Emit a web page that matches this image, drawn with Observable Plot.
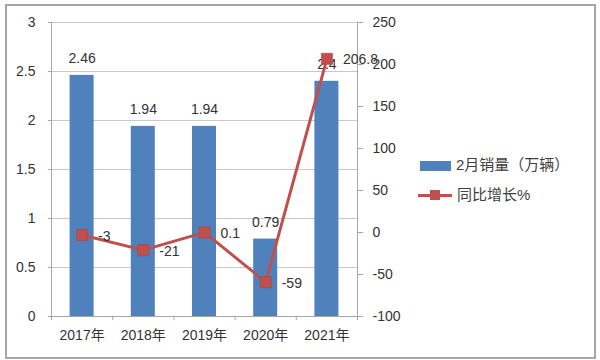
<!DOCTYPE html>
<html><head><meta charset="utf-8">
<script src="https://cdn.jsdelivr.net/npm/d3@7"></script>
<script src="https://cdn.jsdelivr.net/npm/@observablehq/plot@0.6"></script>
<style>
body{margin:0;background:#fff;}
#wrap{position:relative;width:600px;height:360px;overflow:hidden;font-family:"Liberation Sans","Noto Sans CJK SC",sans-serif;color:#404040;}
#frame{position:absolute;left:5px;top:4px;width:587px;height:351px;border:2px solid #A6A6A6;pointer-events:none;}
#chart{position:absolute;left:0;top:0;}
.lg{position:absolute;font-size:15px;line-height:18px;white-space:nowrap;}
</style></head>
<body>
<div id="wrap"><div id="chart"></div><div id="frame"></div>
<div id="legend"></div>
</div>
<script>
const years = ["2017年","2018年","2019年","2020年","2021年"];
const sales = [2.46, 1.94, 1.94, 0.79, 2.4];
const salesLabels = ["2.46","1.94","1.94","0.79","2.4"];
const growth = [-3, -21, 0.1, -59, 206.8];
const growthLabels = ["-3","-21","0.1","-59","206.8"];
const leftTicks = [0, 0.5, 1, 1.5, 2, 2.5, 3];
const rightTicks = [-100, -50, 0, 50, 100, 150, 200, 250];
const seriesNames = ["2月销量（万辆）", "同比增长%"];

const barColor = "#4F81BD", lineColor = "#C0504D";
const rMin = -100, rMax = 250, lMax = 3;
const toLeft = v => (v - rMin) / (rMax - rMin) * lMax;
const fromLeft = y => Math.round(y / lMax * (rMax - rMin) + rMin);

const data = years.map((y, i) => ({i, year: y, sales: sales[i], sl: salesLabels[i], g: growth[i], gl: growthLabels[i], gy: toLeft(growth[i])}));

const axisColor = "#A6A6A6";
const plot = Plot.plot({
  width: 600, height: 360,
  marginLeft: 51, marginRight: 243, marginTop: 22, marginBottom: 44,
  x: {domain: [0, years.length]},
  y: {domain: [0, lMax]},
  style: {fontFamily: '"Liberation Sans","Noto Sans CJK SC",sans-serif', fontSize: "14px", color: "#404040", background: "transparent"},
  marks: [
    Plot.ruleY(leftTicks.filter(d => d > 0), {stroke: "#C8C8C8", strokeWidth: 1}),
    Plot.axisY({anchor: "left", ticks: leftTicks, tickFormat: d => String(d), tickSize: 3, tickPadding: 13, stroke: axisColor, fill: "#333", fontSize: 14}),
    Plot.axisY({anchor: "right", ticks: rightTicks.map(toLeft), tickFormat: d => String(fromLeft(d)), tickSize: 5, tickPadding: 10, stroke: axisColor, fill: "#333", fontSize: 14}),
    Plot.axisX({anchor: "bottom", ticks: d3.range(0, years.length + 1), tickFormat: () => "", tickSize: 4, stroke: axisColor}),
    Plot.axisX({anchor: "bottom", ticks: years.map((_, i) => i + 0.5), tickFormat: d => years[Math.floor(d)], tickSize: 0, tickPadding: 14, fill: "#333", fontSize: 14}),
    Plot.ruleX([0, years.length], {stroke: axisColor}),
    Plot.ruleY([0], {stroke: axisColor}),
    Plot.rectY(data, {x1: d => d.i, x2: d => d.i + 1, y: "sales", insetLeft: 18.6, insetRight: 18.6, fill: barColor}),
    Plot.text(data, {x: d => d.i + 0.5, y: "sales", text: "sl", dy: -17, fill: "#333", fontSize: 14}),
    Plot.line(data, {x: d => d.i + 0.5, y: "gy", stroke: lineColor, strokeWidth: 3}),
    Plot.dot(data, {x: d => d.i + 0.5, y: "gy", symbol: "square", r: 6.3, fill: lineColor, stroke: "#B0403D", strokeWidth: 0.5}),
    Plot.text(data, {x: d => d.i + 0.5, y: "gy", text: "gl", dx: 16, dy: 1, textAnchor: "start", fill: "#333", fontSize: 14})
  ]
});
document.getElementById("chart").appendChild(plot);

const lg = document.getElementById("legend");
lg.innerHTML = `
<div style="position:absolute;left:420px;top:161px;width:31px;height:10px;background:${barColor}"></div>
<div class="lg" style="left:456px;top:156px">${seriesNames[0]}</div>
<div style="position:absolute;left:418px;top:194px;width:34px;height:3px;background:${lineColor}"></div>
<div style="position:absolute;left:430px;top:190px;width:10px;height:10px;background:${lineColor}"></div>
<div class="lg" style="left:457px;top:186px">${seriesNames[1]}</div>`;
</script>
</body></html>
